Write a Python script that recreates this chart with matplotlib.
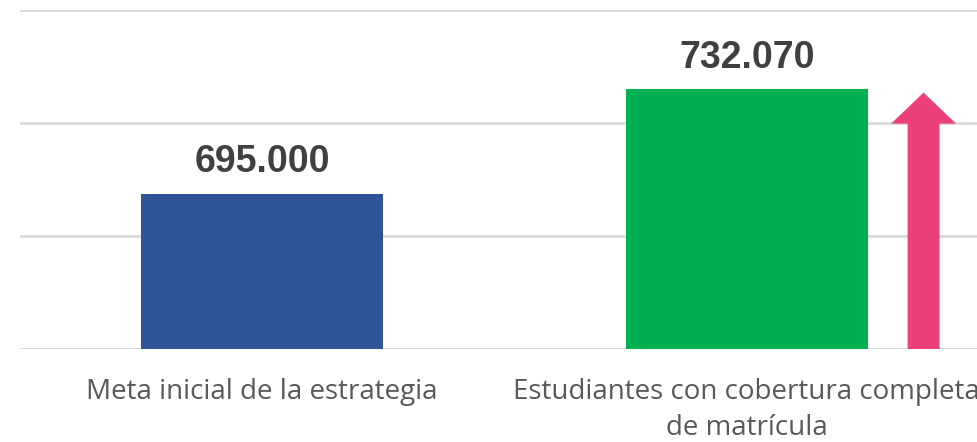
import matplotlib.pyplot as plt
from matplotlib.patches import FancyArrow

categories = ["Meta inicial de la estrategia",
              "Estudiantes con cobertura completa\nde matrícula"]
values = [695000, 732070]
bar_colors = ["#2F5597", "#00B050"]
y_ticks = [640000, 680000, 720000, 760000]

fig = plt.figure(figsize=(9.77, 4.42), dpi=100)
ax = fig.add_axes([20 / 977, 93 / 442, 969 / 977, 339 / 442])

x = list(range(len(categories)))
bars = ax.bar(x, values, width=0.5, color=bar_colors, zorder=2)

for xi, v in zip(x, values):
    ax.annotate(f"{v:,}".replace(",", "."), (xi, v), xytext=(0, 9.5),
                textcoords="offset points", ha="center", va="bottom",
                fontsize=27, fontweight="bold", color="#404040",
                family="Liberation Sans")

# flecha de crecimiento junto a la segunda barra
ax.add_patch(FancyArrow(1.365, y_ticks[0], 0, values[1] - y_ticks[0] - 1300,
                        width=0.066, head_width=0.134, head_length=11000,
                        length_includes_head=True, color="#EC407A", lw=0,
                        zorder=3))

ax.set_xlim(-0.5, 1.5)
ax.set_ylim(y_ticks[0], y_ticks[-1])
ax.set_yticks(y_ticks)
ax.set_yticklabels([])
ax.yaxis.grid(True, color="#D9D9D9", lw=2, zorder=0)
ax.tick_params(length=0)
ax.set_xticks(x)
ax.set_xticklabels(categories, fontsize=20, color="#595959",
                   family="Open Sans", linespacing=1.35)
ax.tick_params(axis="x", pad=21)
for s in ax.spines.values():
    s.set_visible(False)

fig.savefig("out.png", dpi=100)
